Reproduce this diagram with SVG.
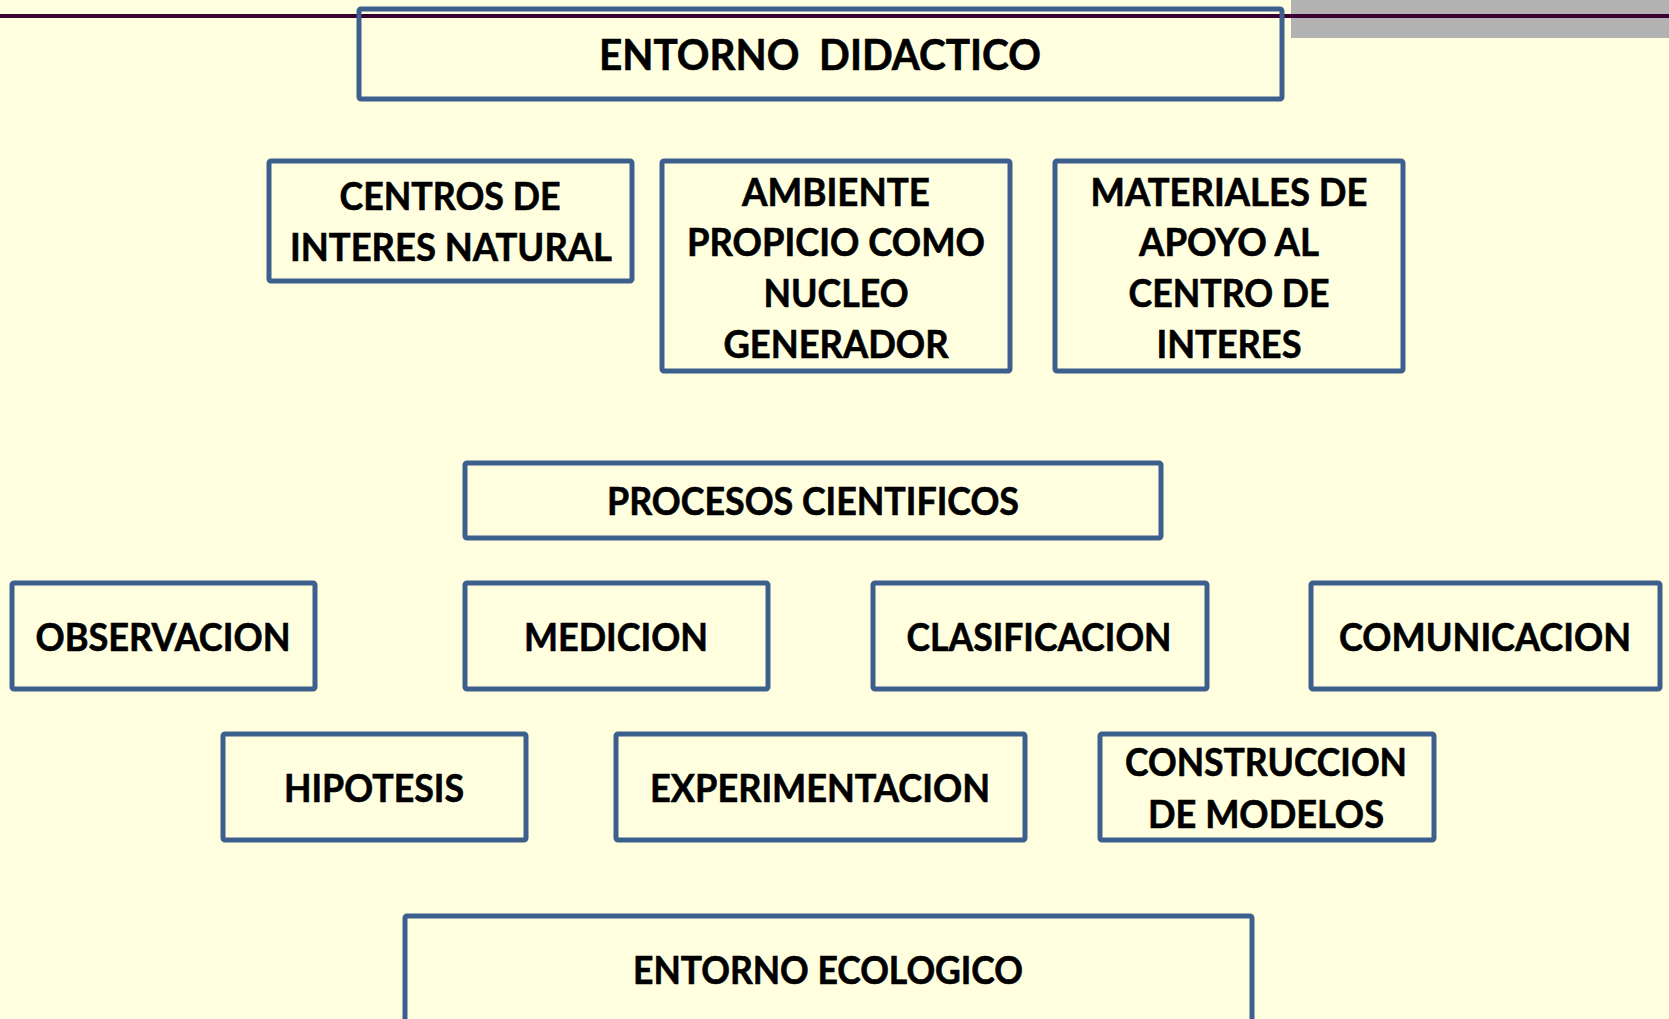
<svg xmlns="http://www.w3.org/2000/svg" width="1669" height="1019" viewBox="0 0 1669 1019">
<style>
.box{fill:none;stroke:#3d5f8e;stroke-width:5}
.t{font-family:Lato,"Open Sans","Liberation Sans",sans-serif;font-weight:bold;font-size:37.7px;fill:#000;stroke:#000;stroke-width:0.6;text-anchor:middle}
.tt{font-size:42.7px}
</style>
<rect x="0" y="0" width="1669" height="1019" fill="#ffffe0"/>
<rect x="1291" y="0" width="378" height="38" fill="#b2b2b2"/>
<line x1="0" y1="16" x2="1669" y2="16" stroke="#3a0033" stroke-width="4"/>
<g id="connectors"/>
<g id="entorno-didactico">
<rect class="box" x="359" y="9" width="923" height="90" rx="2"/>
<text class="t tt" x="820" y="70" textLength="442" lengthAdjust="spacingAndGlyphs" xml:space="preserve">ENTORNO  DIDACTICO</text>
</g>
<g id="centros">
<rect class="box" x="269" y="161" width="363" height="120" rx="2"/>
<text class="t" x="450" y="209.5" textLength="221" lengthAdjust="spacingAndGlyphs">CENTROS DE</text>
<text class="t" x="451" y="260.5" textLength="322" lengthAdjust="spacingAndGlyphs">INTERES NATURAL</text>
</g>
<g id="ambiente">
<rect class="box" x="662" y="161" width="348" height="210" rx="2"/>
<text class="t" x="836" y="205.5" textLength="188" lengthAdjust="spacingAndGlyphs">AMBIENTE</text>
<text class="t" x="836" y="256" textLength="298" lengthAdjust="spacingAndGlyphs">PROPICIO COMO</text>
<text class="t" x="836" y="307" textLength="145" lengthAdjust="spacingAndGlyphs">NUCLEO</text>
<text class="t" x="836" y="358" textLength="225" lengthAdjust="spacingAndGlyphs">GENERADOR</text>
</g>
<g id="materiales">
<rect class="box" x="1055" y="161" width="348" height="210" rx="2"/>
<text class="t" x="1229" y="205.5" textLength="277" lengthAdjust="spacingAndGlyphs">MATERIALES DE</text>
<text class="t" x="1229" y="256" textLength="180" lengthAdjust="spacingAndGlyphs">APOYO AL</text>
<text class="t" x="1229" y="307" textLength="201" lengthAdjust="spacingAndGlyphs">CENTRO DE</text>
<text class="t" x="1229" y="358" textLength="145" lengthAdjust="spacingAndGlyphs">INTERES</text>
</g>
<g id="procesos">
<rect class="box" x="465" y="463" width="696" height="75" rx="2"/>
<text class="t" x="813" y="514.5" textLength="412" lengthAdjust="spacingAndGlyphs">PROCESOS CIENTIFICOS</text>
</g>
<g id="observacion">
<rect class="box" x="12" y="583" width="303" height="106" rx="2"/>
<text class="t" x="163" y="650.5" textLength="255" lengthAdjust="spacingAndGlyphs">OBSERVACION</text>
</g>
<g id="medicion">
<rect class="box" x="465" y="583" width="303" height="106" rx="2"/>
<text class="t" x="616" y="650.5" textLength="184" lengthAdjust="spacingAndGlyphs">MEDICION</text>
</g>
<g id="clasificacion">
<rect class="box" x="873" y="583" width="334" height="106" rx="2"/>
<text class="t" x="1039" y="650.5" textLength="265" lengthAdjust="spacingAndGlyphs">CLASIFICACION</text>
</g>
<g id="comunicacion">
<rect class="box" x="1311" y="583" width="349" height="106" rx="2"/>
<text class="t" x="1485" y="650.5" textLength="292" lengthAdjust="spacingAndGlyphs">COMUNICACION</text>
</g>
<g id="hipotesis">
<rect class="box" x="223" y="734" width="303" height="106" rx="2"/>
<text class="t" x="374" y="801.5" textLength="180" lengthAdjust="spacingAndGlyphs">HIPOTESIS</text>
</g>
<g id="experimentacion">
<rect class="box" x="616" y="734" width="409" height="106" rx="2"/>
<text class="t" x="820" y="801.5" textLength="340" lengthAdjust="spacingAndGlyphs">EXPERIMENTACION</text>
</g>
<g id="construccion">
<rect class="box" x="1100" y="734" width="334" height="106" rx="2"/>
<text class="t" x="1266" y="775.5" textLength="282" lengthAdjust="spacingAndGlyphs">CONSTRUCCION</text>
<text class="t" x="1266" y="827.5" textLength="236" lengthAdjust="spacingAndGlyphs">DE MODELOS</text>
</g>
<g id="entorno-ecologico">
<rect class="box" x="405" y="916" width="847" height="130" rx="2"/>
<text class="t" x="828" y="983.5" textLength="390" lengthAdjust="spacingAndGlyphs">ENTORNO ECOLOGICO</text>
</g>
</svg>
